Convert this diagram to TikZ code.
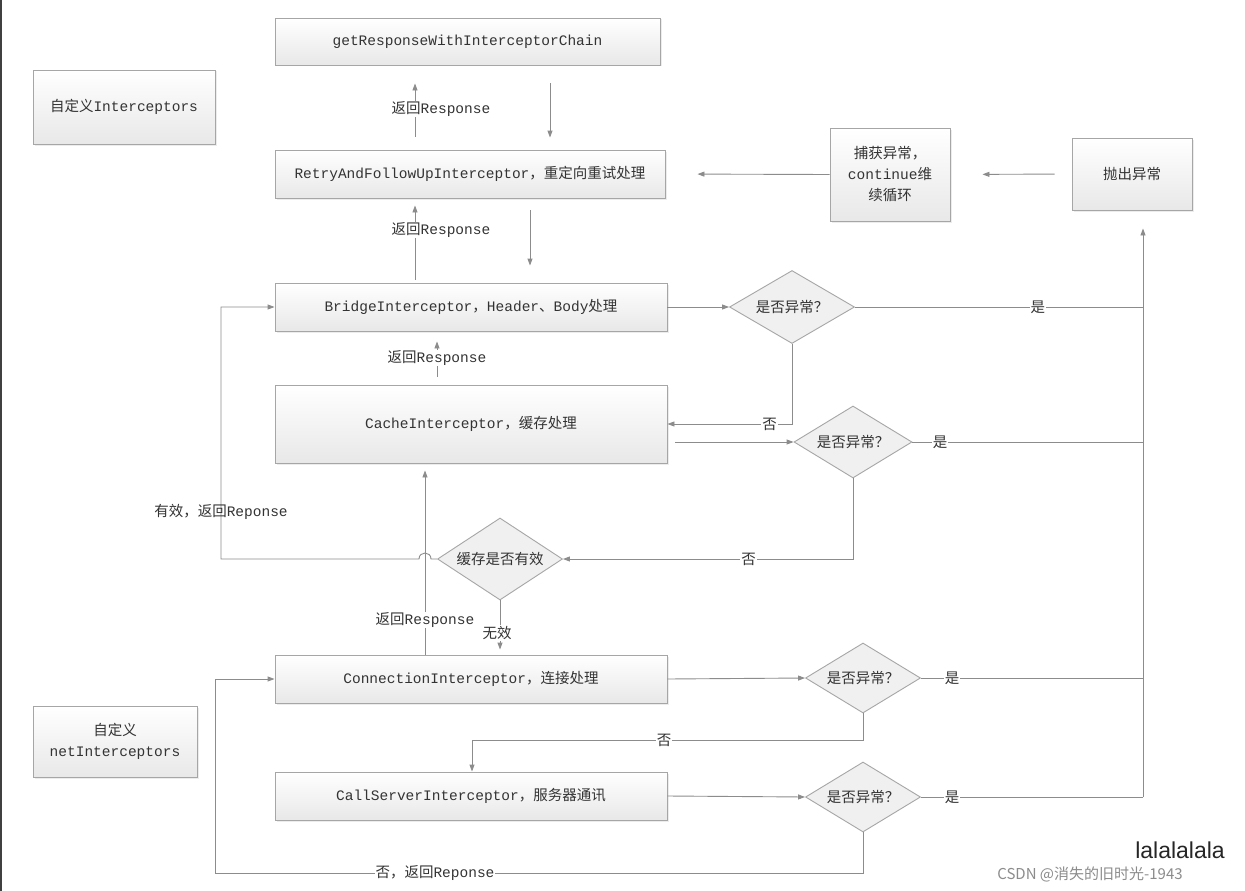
\documentclass[tikz,border=0pt]{standalone}
\usepackage{fontspec}
\setmainfont{Liberation Mono}
\newfontfamily\cjk{Noto Sans CJK SC}
\newfontfamily\wmfont{Liberation Sans}
\usetikzlibrary{arrows.meta,shapes.geometric,shadows}
\newcommand\zh[1]{{\cjk #1}}
\definecolor{ln}{HTML}{8C8C8C}
\definecolor{bd}{HTML}{A6A6A6}
\definecolor{tx}{HTML}{333333}
\begin{document}
\begin{tikzpicture}[x=1pt,y=-1pt,
  font=\fontsize{14.5}{21}\selectfont, text=tx,
  box/.style={rectangle, draw=bd, line width=0.9pt, top color=white, bottom color=black!9,
    drop shadow={shadow xshift=1.5pt, shadow yshift=-1.5pt, fill=black!12, opacity=0.6},
    align=center, inner sep=2pt},
  dia/.style={diamond, aspect=1.7, draw=bd, line width=0.9pt, fill=black!6, inner sep=0pt, align=center},
  con/.style={draw=ln, line width=0.9pt},
  arr/.style={con, -{Triangle[length=7pt,width=5pt]}},
  lbl/.style={fill=white, inner sep=1pt}]
\useasboundingbox (0,0) rectangle (1245,891);
\fill[white] (0,0) rectangle (1245,891);
\draw[black!75, line width=1.3pt] (1,0) -- (1,891);

% boxes
\node[box, minimum width=385, minimum height=47] (gr) at (467.5,41.5) {getResponseWithInterceptorChain};
\node[box, minimum width=182, minimum height=74] (ci) at (124,107) {\zh{自定义}Interceptors};
\node[box, minimum width=390, minimum height=48] (retry) at (470,174) {RetryAndFollowUpInterceptor\zh{，重定向重试处理}};
\node[box, minimum width=120, minimum height=93] (catch) at (890,174.5) {\zh{捕获异常，}\\continue\zh{维}\\\zh{续循环}};
\node[box, minimum width=120, minimum height=72] (throw) at (1132,174) {\zh{抛出异常}};
\node[box, minimum width=392, minimum height=48] (bridge) at (471,307) {BridgeInterceptor\zh{，}Header\zh{、}Body\zh{处理}};
\node[box, minimum width=392, minimum height=78] (cache) at (471,424) {CacheInterceptor\zh{，缓存处理}};
\node[box, minimum width=392, minimum height=48] (conn) at (471,679) {ConnectionInterceptor\zh{，连接处理}};
\node[box, minimum width=164, minimum height=71] (cni) at (115,741.5) {\zh{自定义}\\netInterceptors};
\node[box, minimum width=392, minimum height=48] (call) at (471,796) {CallServerInterceptor\zh{，服务器通讯}};

% diamonds
\node[dia, minimum width=125, minimum height=73] (d1) at (792,307) {\zh{是否异常？}};
\node[dia, minimum width=118, minimum height=72] (d2) at (853,442) {\zh{是否异常？}};
\node[dia, minimum width=125, minimum height=82] (d3) at (500,559) {\zh{缓存是否有效}};
\node[dia, minimum width=115, minimum height=70] (d4) at (863,678) {\zh{是否异常？}};
\node[dia, minimum width=115, minimum height=70] (d5) at (863,797) {\zh{是否异常？}};

% helper coordinates
\coordinate (c415) at (415,0);
\coordinate (c550) at (550,0);
\coordinate (c530) at (530,0);
\coordinate (c437) at (437,0);
\coordinate (c425) at (425,0);
\coordinate (c472) at (472,0);
\coordinate (c221) at (221,0);
\coordinate (bus) at (1143,0);
\coordinate (r740) at (0,740);
\coordinate (b1) at (215,873);
\coordinate (j1) at (431,559);
\coordinate (j2) at (419,559);

% connectors
\draw[arr, shorten <=13, shorten >=18] (retry.north -| c415) -- (gr.south -| c415);
\draw[arr, shorten <=18, shorten >=12] (gr.south -| c550) -- (retry.north -| c550);
\draw[arr, shorten <=3, shorten >=7] (bridge.north -| c415) -- (retry.south -| c415);
\draw[arr, shorten <=12, shorten >=17] (retry.south -| c530) -- (bridge.north -| c530);
\draw[arr, shorten >=32] (catch.west) -- (retry.east);
\draw[arr, shorten <=17, shorten >=32] (throw.west) -- (catch.east);

\draw[arr] (bridge.east) -- (d1.west);
\draw[con] (d1.east) -- node[lbl, pos=0.635] {\zh{是}} (d1.east -| bus);
\draw[arr, shorten >=18] (d5.east -| bus) -- (throw.south -| bus);
\draw[arr] (d1.south) |- node[lbl, pos=0.59] {\zh{否}} (cache.east);

\draw[arr, shorten <=8] (d2.west -| cache.east) -- (d2.west);
\draw[con] (d2.east) -- node[lbl, pos=0.12] {\zh{是}} (d2.east -| bus);
\draw[arr] (d2.south) |- node[lbl, pos=0.68] {\zh{否}} (d3.east);

\draw[arr] (d3.west) -- (j1) .. controls ([yshift=8]j1) and ([yshift=8]j2) .. (j2)
  -- (j2 -| c221) -- (bridge.west -| c221) -- (bridge.west);
\node (lv) at (221,512) {\zh{有效，返回}Reponse};

\draw[arr, shorten >=7] (conn.north -| c425) -- (cache.south -| c425);
\draw[arr, shorten <=8, shorten >=10] (cache.north -| c437) -- (bridge.south -| c437);
\draw[arr, shorten >=5] (d3.south) -- (conn.north -| d3.south);

\draw[arr] (conn.east) -- (d4.west);
\draw[con] (d4.east) -- node[lbl, pos=0.14] {\zh{是}} (d4.east -| bus);
\draw[arr] (d4.south) -- (d4.south |- r740) -| (call.north -| c472);
\draw[arr] (call.east) -- (d5.west);
\draw[con] (d5.east) -- node[lbl, pos=0.14] {\zh{是}} (d5.east -| bus);
\draw[arr] (d5.south) |- (b1) |- (conn.west);

% labels over connectors
\node[lbl] (l1) at (441,109) {\zh{返回}Response};
\node[lbl] (l2) at (441,230) {\zh{返回}Response};
\node[lbl] (l3) at (437,358) {\zh{返回}Response};
\node[lbl] (l4) at (425,620) {\zh{返回}Response};
\node[lbl] (l5) at (497,633) {\zh{无效}};
\node[lbl] (l6) at (664,740) {\zh{否}};
\node[lbl] (l7) at (435,873) {\zh{否，返回}Reponse};

% watermark
\node[text=black!45, font=\cjk\fontsize{15}{18}\selectfont] (wm) at (1090,874) {CSDN @消失的旧时光-1943};
\node[text=black!85, font=\wmfont\fontsize{23}{26}\selectfont, inner sep=0pt] (wm2) at (1180,850) {lalalalala};
\end{tikzpicture}
\end{document}
